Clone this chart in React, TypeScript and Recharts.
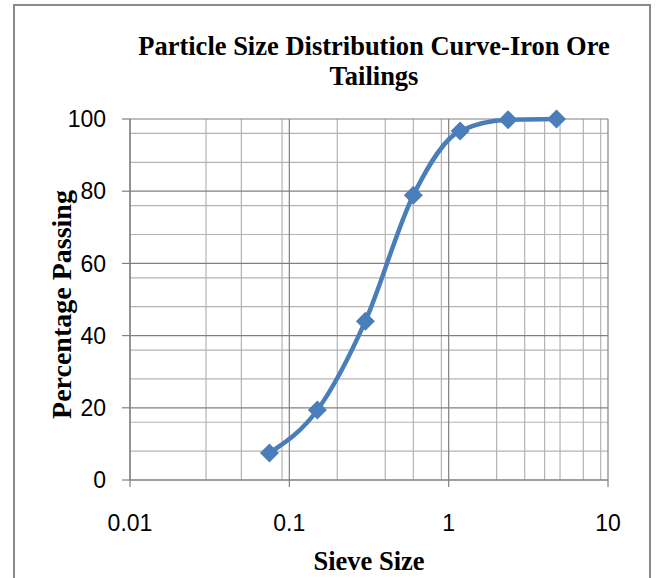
import React from 'react';
import { LineChart, Line, XAxis, YAxis, CartesianGrid, Label } from 'recharts';

const sieveSizes = [0.075, 0.15, 0.3, 0.6, 1.18, 2.36, 4.75];
const percentPassing = [7.5, 19.4, 44, 78.9, 96.7, 99.8, 100];

const xMajorTicks = [0.01, 0.1, 1, 10];
const xMinorTicks = [
  0.02, 0.03, 0.04, 0.05, 0.06, 0.07, 0.08, 0.09,
  0.2, 0.3, 0.4, 0.5, 0.6, 0.7, 0.8, 0.9,
  2, 3, 4, 5, 6, 7, 8, 9,
];
const yMajorTicks = [0, 20, 40, 60, 80, 100];
const yMinorTicks = [4, 8, 12, 16, 24, 28, 32, 36, 44, 48, 52, 56, 64, 68, 72, 76, 84, 88, 92, 96];

const data = sieveSizes.map((s, i) => ({ size: s, pct: percentPassing[i] }));

const BLUE = '#4a7ebb';
const MAJOR = '#808080';
const MINOR = '#b4b4b4';

const Diamond = (props: any) => {
  const { cx, cy } = props;
  if (cx == null || cy == null) return null;
  const r = 9.5;
  return (
    <polygon
      points={`${cx},${cy - r} ${cx + r},${cy} ${cx},${cy + r} ${cx - r},${cy}`}
      fill={BLUE}
    />
  );
};

const tickStyle = { fontFamily: 'Liberation Sans', fontSize: 23, fill: '#000' };

export default function App() {
  return (
    <div style={{ position: 'absolute', left: 0, top: 0, width: 656, height: 578, overflow: 'hidden', background: '#fff' }}>
      <div
        style={{
          position: 'absolute',
          left: 13,
          top: 4,
          width: 638,
          height: 620,
          border: `2px solid #8a8a8a`,
          boxSizing: 'border-box',
        }}
      />
      <div
        style={{
          position: 'absolute',
          left: 74,
          top: 31,
          width: 600,
          textAlign: 'center',
          fontFamily: 'Liberation Serif',
          fontWeight: 'bold',
          fontSize: 26.5,
          lineHeight: '30px',
          color: '#000',
        }}
      >
        Particle Size Distribution Curve-Iron Ore
        <br />
        Tailings
      </div>
      <div style={{ position: 'absolute', left: 0, top: 0 }}>
        <LineChart width={656} height={578} data={data} margin={{ top: 119, right: 48, bottom: 0, left: 0 }}>
          <CartesianGrid
            stroke={MINOR}
            strokeWidth={1.2}
            verticalValues={xMinorTicks}
            horizontalValues={yMinorTicks}
          />
          <CartesianGrid
            stroke={MAJOR}
            strokeWidth={1.2}
            verticalValues={xMajorTicks}
            horizontalValues={yMajorTicks}
          />
          <XAxis
            dataKey="size"
            type="number"
            scale="log"
            domain={[0.01, 10]}
            allowDataOverflow
            ticks={xMajorTicks}
            tickFormatter={(v: number) => String(v)}
            height={98}
            tickSize={7}
            tickMargin={28}
            stroke={MAJOR}
            tick={tickStyle}
            axisLine={{ stroke: MAJOR, strokeWidth: 1.2 }}
            tickLine={{ stroke: MAJOR, strokeWidth: 1.2 }}
          >
            <Label
              content={(p: any) => {
                const vb = p.viewBox || { x: 130, y: 480, width: 478, height: 98 };
                return (
                  <text
                    x={vb.x + vb.width / 2}
                    y={vb.y + 90}
                    textAnchor="middle"
                    fontFamily="Liberation Serif"
                    fontWeight="bold"
                    fontSize={26.5}
                    fill="#000"
                  >
                    Sieve Size
                  </text>
                );
              }}
            />
          </XAxis>
          <YAxis
            type="number"
            domain={[0, 100]}
            ticks={yMajorTicks}
            width={130}
            tickSize={8}
            tickMargin={16}
            stroke={MAJOR}
            tick={tickStyle}
            axisLine={{ stroke: MAJOR, strokeWidth: 1.2 }}
            tickLine={{ stroke: MAJOR, strokeWidth: 1.2 }}
          >
            <Label
              content={(p: any) => {
                const vb = p.viewBox || { x: 0, y: 119, width: 130, height: 361 };
                const x = vb.x + 71;
                const y = vb.y + vb.height / 2 + 5;
                return (
                  <text
                    x={x}
                    y={y}
                    transform={`rotate(-90 ${x} ${y})`}
                    textAnchor="middle"
                    fontFamily="Liberation Serif"
                    fontWeight="bold"
                    fontSize={28}
                    fill="#000"
                  >
                    Percentage Passing
                  </text>
                );
              }}
            />
          </YAxis>
          <Line
            dataKey="pct"
            type="monotone"
            stroke={BLUE}
            strokeWidth={4.5}
            dot={<Diamond />}
            activeDot={false}
            isAnimationActive={false}
          />
        </LineChart>
      </div>
    </div>
  );
}
